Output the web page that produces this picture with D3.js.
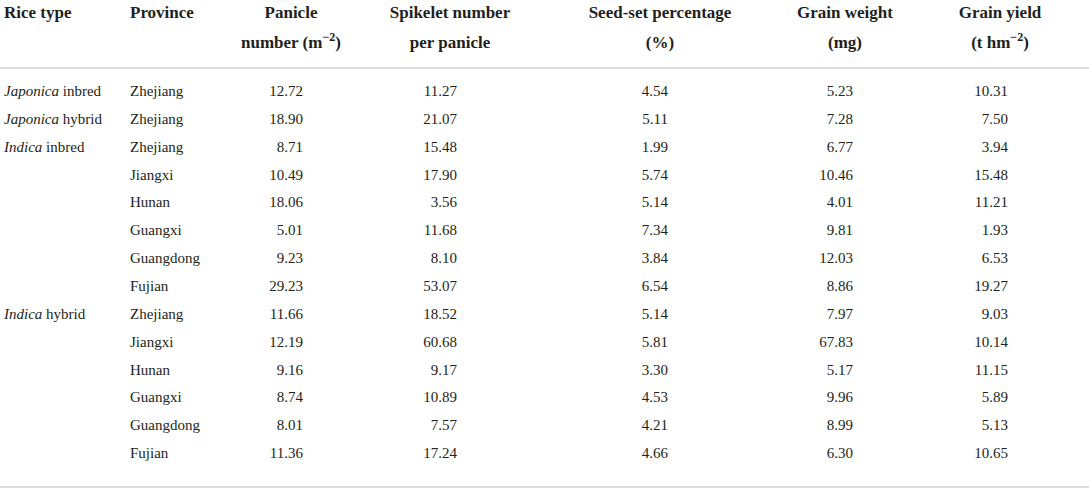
<!DOCTYPE html>
<html>
<head>
<meta charset="utf-8">
<script src="https://cdn.jsdelivr.net/npm/d3@7/dist/d3.min.js"></script>
<style>
  body { margin: 0; background: #fff; }
  svg text { font-family: "Liberation Serif", "DejaVu Serif", serif; fill: #231f20; }
  .head text { font-weight: bold; font-size: 17px; }
  .cell { font-size: 15px; }
</style>
</head>
<body>
<div id="chart"></div>
<script>
// table data
var riceTypes = ['Japonica inbred', 'Japonica hybrid', 'Indica inbred', '', '', '', '', '',
                 'Indica hybrid', '', '', '', '', ''];
var provinces = ['Zhejiang', 'Zhejiang', 'Zhejiang', 'Jiangxi', 'Hunan', 'Guangxi', 'Guangdong', 'Fujian',
                 'Zhejiang', 'Jiangxi', 'Hunan', 'Guangxi', 'Guangdong', 'Fujian'];
var panicleNumber = [12.72, 18.90, 8.71, 10.49, 18.06, 5.01, 9.23, 29.23, 11.66, 12.19, 9.16, 8.74, 8.01, 11.36];
var spikeletNumber = [11.27, 21.07, 15.48, 17.90, 3.56, 11.68, 8.10, 53.07, 18.52, 60.68, 9.17, 10.89, 7.57, 17.24];
var seedSet = [4.54, 5.11, 1.99, 5.74, 5.14, 7.34, 3.84, 6.54, 5.14, 5.81, 3.30, 4.53, 4.21, 4.66];
var grainWeight = [5.23, 7.28, 6.77, 10.46, 4.01, 9.81, 12.03, 8.86, 7.97, 67.83, 5.17, 9.96, 8.99, 6.30];
var grainYield = [10.31, 7.50, 3.94, 15.48, 11.21, 1.93, 6.53, 19.27, 9.03, 10.14, 11.15, 5.89, 5.13, 10.65];

var headers = [
    [['Rice type']],
    [['Province']],
    [['Panicle'], ['number (m', '−2', ')']],
    [['Spikelet number'], ['per panicle']],
    [['Seed-set percentage'], ['(%)']],
    [['Grain weight'], ['(mg)']],
    [['Grain yield'], ['(t hm', '−2', ')']]
];

var width = 1089, height = 491;
var svg = d3.select('#chart').append('svg')
    .attr('width', width).attr('height', height);

// column anchors: text columns start at x, number columns end at x
var colX = [4, 130, 303, 457, 668, 853, 1008];
var headX = [4, 130, 291, 450, 660, 845, 1000];
var numCols = [panicleNumber, spikeletNumber, seedSet, grainWeight, grainYield];

var y = d3.scaleBand()
    .domain(d3.range(provinces.length))
    .range([77, 467]);

// header
var head = svg.append('g').attr('class', 'head');
headers.forEach(function (lines, c) {
    lines.forEach(function (parts, li) {
        var t = head.append('text')
            .attr('x', headX[c])
            .attr('y', 18 + li * 30)
            .attr('text-anchor', c < 2 ? 'start' : 'middle');
        parts.forEach(function (p, k) {
            var ts = t.append('tspan').text(p);
            if (k === 1) ts.attr('font-size', '12px').attr('dy', -7);
            if (k === 2) ts.attr('dy', 7);
        });
    });
});

// rules
[68, 487].forEach(function (ly) {
    svg.append('line')
        .attr('x1', 0).attr('x2', width)
        .attr('y1', ly).attr('y2', ly)
        .attr('stroke', '#cfcfcf').attr('stroke-width', 1.5);
});

var rows = svg.append('g').selectAll('g')
    .data(provinces)
    .join('g')
    .attr('transform', function (d, i) { return 'translate(0,' + (y(i) + y.bandwidth() / 2 + 5) + ')'; });

// rice type, first word italic
rows.each(function (d, i) {
    if (!riceTypes[i]) return;
    var words = riceTypes[i].split(' ');
    var t = d3.select(this).append('text').attr('class', 'cell').attr('x', colX[0]);
    t.append('tspan').attr('font-style', 'italic').text(words[0]);
    t.append('tspan').text(' ' + words[1]);
});

rows.append('text').attr('class', 'cell')
    .attr('x', colX[1])
    .text(function (d) { return d; });

numCols.forEach(function (vals, c) {
    rows.append('text').attr('class', 'cell')
        .attr('x', colX[c + 2])
        .attr('text-anchor', 'end')
        .text(function (d, i) { return d3.format('.2f')(vals[i]); });
});
</script>
</body>
</html>
